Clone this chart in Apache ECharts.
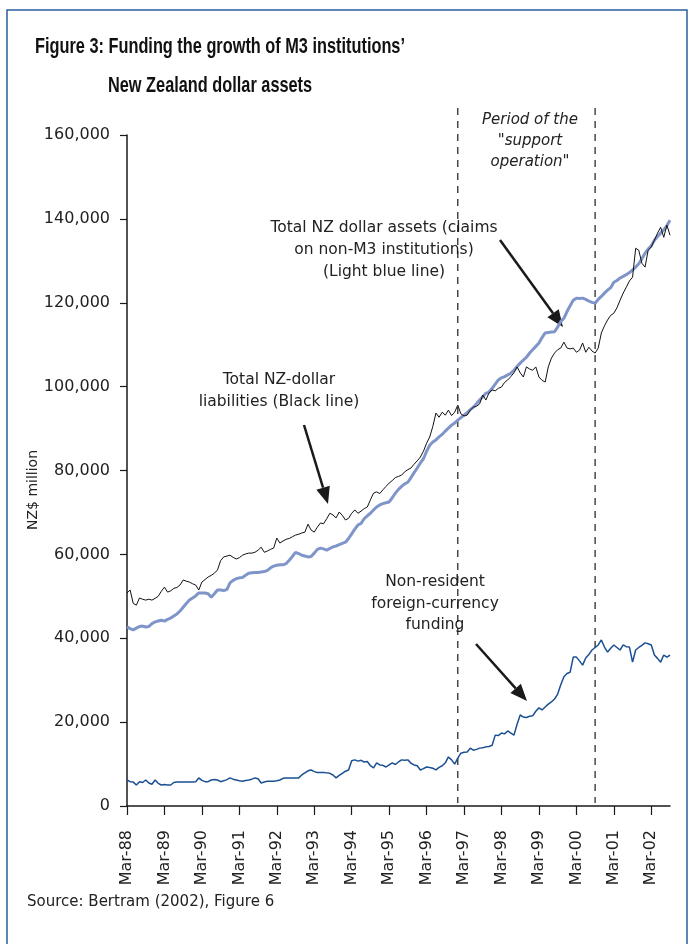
<!DOCTYPE html>
<html>
<head>
<meta charset="utf-8">
<script src="https://cdn.jsdelivr.net/npm/echarts@6/dist/echarts.min.js"></script>
<style>
  html, body { margin: 0; padding: 0; background: #fff; }
  #chart { width: 688px; height: 944px; }
</style>
</head>
<body>
<div id="chart"></div>
<script>
// monthly, Mar-88 .. Sep-02 (NZ$ million)
const months = ["Jan","Feb","Mar","Apr","May","Jun","Jul","Aug","Sep","Oct","Nov","Dec"];
const categories = [];
for (let i = 0; i < 175; i++) {
  const m = (2 + i) % 12;
  const y = (88 + Math.floor((2 + i) / 12)) % 100;
  categories.push(months[m] + "-" + String(y).padStart(2, "0"));
}

// Total NZ-dollar liabilities (black line)
const liabilities = [
  50800, 51500, 48300, 47900, 49600, 49300, 49100, 49300, 49100, 49500, 50000, 51200,
  52200, 51000, 51300, 51900, 52100, 52700, 53900, 53600, 53400, 53000, 52700, 51500,
  53400, 54000, 54600, 55000, 55500, 56300, 58500, 59400, 59600, 59800, 59300, 58900,
  59200, 59800, 60100, 60300, 60300, 60500, 61000, 61700, 60500, 60800, 61200, 61500,
  63900, 62700, 63200, 63600, 63800, 64200, 64600, 64800, 65100, 65300, 67200, 65800,
  65300, 66500, 67500, 67300, 68500, 69800, 69400, 68700, 70100, 69300, 68200, 68600,
  69800, 70600, 69800, 70300, 70900, 71300, 73000, 74600, 74900, 74500, 75400, 76200,
  77000, 77600, 78300, 78600, 78900, 79700, 80200, 80600, 81500, 82300, 83200, 84600,
  86500, 88000, 90500, 93700, 92700, 93900, 93200, 94400, 93100, 93900, 95600, 93500,
  93000, 93200, 94400, 95100, 95300, 95900, 98000, 96800, 98500, 99200, 99000, 99600,
  99900, 101000, 101600, 102400, 103300, 104700, 103300, 102300, 104700, 104200, 103900, 104700,
  102300, 101500, 101100, 104700, 106800, 108000, 108800, 109200, 110600, 109200, 109000, 109200,
  108200, 108700, 110400, 108200, 109400, 108500, 108000, 109200, 112800, 114500, 115900, 117000,
  117500, 118800, 120600, 122300, 123700, 125200, 126100, 133000, 132500, 129400, 128500, 132500,
  133300, 134900, 136600, 138000, 135600, 138500, 136100
];

// Total NZ dollar assets (light blue line)
const assets = [
  42700, 42300, 42000, 42400, 42800, 42900, 42700, 42800, 43500, 43900, 44100, 44300,
  44100, 44500, 44800, 45300, 45800, 46500, 47400, 48300, 49100, 49600, 50100, 50800,
  50800, 50800, 50600, 49800, 50600, 51500, 51500, 51400, 51600, 53200, 53800, 54200,
  54400, 54500, 55000, 55500, 55600, 55700, 55700, 55800, 55900, 56200, 56800, 57200,
  57400, 57500, 57500, 57800, 58600, 59500, 60500, 60200, 59800, 59600, 59400, 59500,
  60300, 61200, 61500, 61300, 61000, 61400, 61800, 62000, 62300, 62600, 62900, 63800,
  64900, 66000, 67000, 67400, 68500, 69200, 69800, 70600, 71300, 71800, 72100, 72300,
  72500, 73500, 74600, 75500, 76200, 76800, 77200, 78300, 79500, 80600, 81800, 82800,
  84600, 86000, 86800, 87300, 88000, 88600, 89400, 90100, 90800, 91300, 92000, 92600,
  93200, 93800, 94500, 95100, 95900, 96800, 97600, 98400, 98700, 99600, 100600, 101600,
  102100, 102400, 102800, 103200, 103900, 104800, 105600, 106300, 107000, 108000, 108800, 109600,
  110400, 111700, 112800, 112900, 113000, 113100, 114200, 115500, 116300, 117900, 119300, 120600,
  121100, 121000, 121100, 120800, 120400, 120100, 119900, 120800, 121500, 122300, 123000, 123600,
  124900, 125300, 125900, 126300, 126700, 127200, 127800, 128500, 129300, 130500, 131800, 132800,
  133600, 134900, 135800, 136600, 137400, 138400, 139700
];

// Non-resident foreign-currency funding (dark blue line)
const foreignFunding = [
  6200, 5800, 5700, 5000, 5800, 5600, 6200, 5500, 5200, 6200, 5400, 5000,
  5100, 5000, 5000, 5600, 5700, 5700, 5700, 5700, 5700, 5700, 5800, 6700,
  6100, 5800, 5800, 6200, 6300, 6200, 5800, 6000, 6300, 6700, 6400, 6200,
  6000, 5900, 6100, 6200, 6400, 6700, 6500, 5500, 5700, 5900, 5900, 5900,
  6000, 6200, 6600, 6700, 6700, 6700, 6700, 6700, 7400, 7900, 8400, 8600,
  8200, 8000, 8000, 8000, 7900, 7800, 7400, 6700, 7300, 7800, 8300, 8600,
  10800, 11000, 10700, 10900, 10500, 10600, 9600, 9100, 10300, 9800, 9700, 9300,
  9800, 10300, 9900, 10500, 11000, 10900, 11000, 10200, 9800, 9600, 8600, 8900,
  9300, 9200, 9000, 8600, 9200, 9600, 10300, 11700, 11000, 10000, 11400, 12600,
  12800, 12900, 13800, 13300, 13500, 13800, 13900, 14100, 14200, 14500, 16900, 16800,
  17400, 17200, 17900, 17400, 16900, 19500, 21700, 21200, 21100, 21400, 21500, 22600,
  23400, 22900, 23600, 24300, 24800, 25500, 26700, 28900, 30800, 31600, 31900, 35500,
  35500, 34600, 33600, 35300, 36100, 37200, 37800, 38400, 39600, 37900, 36700, 37600,
  38400, 37800, 37200, 38400, 38000, 37900, 34300, 37200, 37800, 38300, 38900, 38700,
  38400, 36000, 35200, 34300, 36000, 35500, 36000
];

// "support operation" period boundaries
const periodStart = "Jan-97";
const periodEnd = "Sep-00";

const font = "DejaVu Sans";
const isMarch = (i) => i % 12 === 0;

let chart = echarts.init(document.getElementById("chart"));

function arrow(x1, y1, x2, y2) {
  const dx = x2 - x1, dy = y2 - y1;
  const len = Math.sqrt(dx * dx + dy * dy);
  const ux = dx / len, uy = dy / len;
  const hl = 17, hw = 7;
  const bx = x2 - ux * hl, by = y2 - uy * hl;
  return [
    { type: "line", shape: { x1: x1, y1: y1, x2: bx, y2: by },
      style: { stroke: "#1a1a1a", lineWidth: 2.5 } },
    { type: "polygon",
      shape: { points: [[x2, y2], [bx - uy * hw, by + ux * hw], [bx + uy * hw, by - ux * hw]] },
      style: { fill: "#1a1a1a" } }
  ];
}

function label(lines, cx, y0, step, extra) {
  return lines.map((t, i) => Object.assign({
    type: "text", x: cx, y: y0 + i * step,
    style: { text: t, font: "15.5px " + font, fill: "#222", align: "center", verticalAlign: "middle" }
  }, extra || {}));
}

let option = {
  animation: false,
  backgroundColor: "#fff",
  grid: { left: 127, right: 18, top: 135, bottom: 138 },
  xAxis: {
    type: "category",
    boundaryGap: false,
    data: categories,
    axisLine: { lineStyle: { color: "#1a1a1a", width: 1.5 } },
    axisTick: { interval: isMarch, length: 9, lineStyle: { color: "#1a1a1a", width: 1.2 } },
    axisLabel: { interval: isMarch, rotate: 90, margin: 24, color: "#222", fontFamily: font, fontSize: 16 }
  },
  yAxis: {
    type: "value",
    min: 0,
    max: 160000,
    interval: 20000,
    splitLine: { show: false },
    axisLine: { show: true, lineStyle: { color: "#1a1a1a", width: 1.5 } },
    axisTick: { show: true, length: 7, lineStyle: { color: "#1a1a1a", width: 1.2 } },
    axisLabel: {
      margin: 17, color: "#222", fontFamily: font, fontSize: 16,
      formatter: (v) => v.toLocaleString("en-US")
    }
  },
  series: [
    {
      name: "Total NZ dollar assets",
      type: "line",
      data: assets,
      showSymbol: false,
      lineStyle: { color: "#7f95c9", width: 3 },
      z: 2
    },
    {
      name: "Total NZ-dollar liabilities",
      type: "line",
      data: liabilities,
      showSymbol: false,
      lineStyle: { color: "#111", width: 1 },
      z: 3
    },
    {
      name: "Non-resident foreign-currency funding",
      type: "line",
      data: foreignFunding,
      showSymbol: false,
      lineStyle: { color: "#1b4f93", width: 1.5 },
      z: 3
    }
  ]
};
chart.setOption(option);

// dashed period lines placed through the x axis scale
const xs = chart.convertToPixel({ xAxisIndex: 0 }, periodStart);
const xe = chart.convertToPixel({ xAxisIndex: 0 }, periodEnd);
const dashed = [xs, xe].map((x) => ({
  type: "line", shape: { x1: x, y1: 108, x2: x, y2: 803 },
  style: { stroke: "#1a1a1a", lineWidth: 1.2, lineDash: [7, 6] }, z: 1
}));

chart.setOption({
  graphic: [
    { type: "rect", shape: { x: 7, y: 10, width: 680, height: 980 },
      style: { fill: null, stroke: "#2b5d9e", lineWidth: 1.5 } },
    { type: "text", x: 35, y: 47, scaleX: 0.742,
      style: { text: "Figure 3: Funding the growth of M3 institutions\u2019", font: "bold 22px 'Liberation Sans'", fill: "#111", verticalAlign: "middle" } },
    { type: "text", x: 108, y: 86, scaleX: 0.742,
      style: { text: "New Zealand dollar assets", font: "bold 22px 'Liberation Sans'", fill: "#111", verticalAlign: "middle" } },
    { type: "text", x: 33, y: 490, rotation: Math.PI / 2,
      style: { text: "NZ$ million", font: "14px " + font, fill: "#222", align: "center", verticalAlign: "middle" } }
  ]
    .concat(dashed)
    .concat(label(["Period of the", "\"support", "operation\""], 530, 120, 21,
      null).map((e) => { e.style.font = "italic 15px " + font; return e; }))
    .concat(label(["Total NZ dollar assets (claims", "on non-M3 institutions)", "(Light blue line)"], 384, 228, 22))
    .concat(label(["Total NZ-dollar", "liabilities (Black line)"], 279, 380, 22))
    .concat(label(["Non-resident", "foreign-currency", "funding"], 435, 582, 21.5))
    .concat(arrow(500, 240, 563, 327))
    .concat(arrow(304, 425, 328, 504))
    .concat(arrow(476, 644, 527, 701))
    .concat([{ type: "text", x: 27, y: 902,
      style: { text: "Source: Bertram (2002), Figure 6", font: "15px " + font, fill: "#222", verticalAlign: "middle" } }])
});
</script>
</body>
</html>
